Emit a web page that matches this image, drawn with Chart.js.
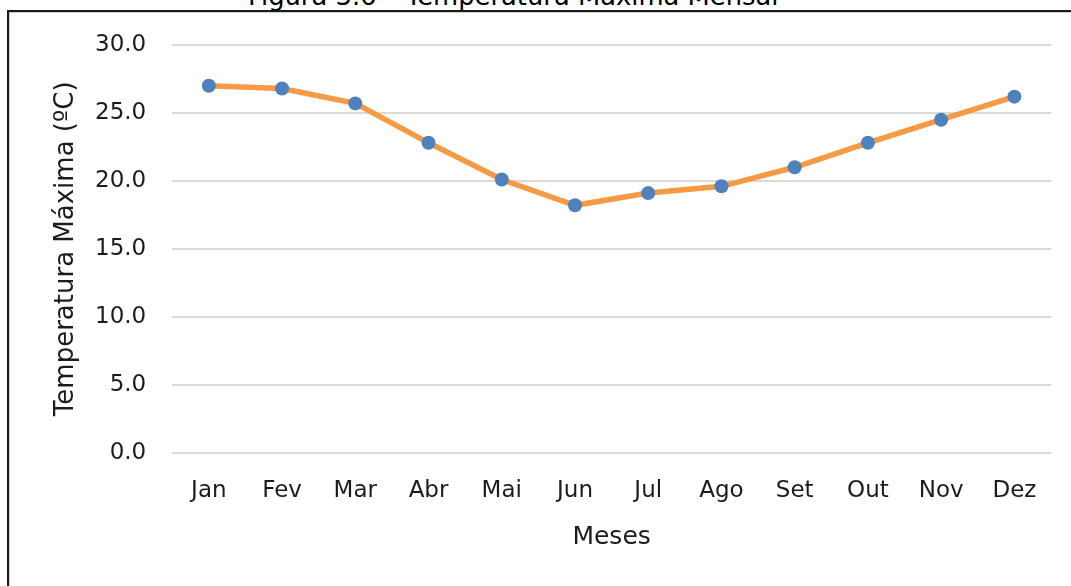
<!DOCTYPE html>
<html>
<head>
<meta charset="utf-8">
<script src="https://cdn.jsdelivr.net/npm/chart.js@4.4.1/dist/chart.umd.min.js"></script>
<style>
  html, body { margin: 0; padding: 0; background: #fff; overflow: hidden; }
  #wrap { position: relative; width: 1071px; height: 586px; }
  #titulo {
    position: absolute; left: 248px; top: -15.6px;
    font-family: "DejaVu Sans", sans-serif; font-size: 25.8px; line-height: 25.8px;
    color: #000; white-space: nowrap;
  }
  #marco {
    position: absolute; left: 7px; top: 10px; width: 1100px; height: 620px;
    border-top: 2px solid #1a1a1a; border-left: 2px solid #1a1a1a;
    box-shadow: inset 1px 1px 0 #d0d0d0;
  }
  canvas { position: absolute; left: 0; top: 0; }
</style>
</head>
<body>
<div id="wrap">
  <div id="titulo">Figura 3.6 – Temperatura Máxima Mensal</div>
  <div id="marco"></div>
  <canvas id="grafica" width="1071" height="586"></canvas>
</div>
<script>
const meses = ["Jan", "Fev", "Mar", "Abr", "Mai", "Jun", "Jul", "Ago", "Set", "Out", "Nov", "Dez"];
const tempMaxima = [27.0, 26.8, 25.7, 22.8, 20.1, 18.2, 19.1, 19.6, 21.0, 22.8, 24.5, 26.2];
const ejeY = { min: 0, max: 30, paso: 5 };

const fuente = "'DejaVu Sans', sans-serif";
const colorTexto = "#1c1c1c";

const ctx = document.getElementById("grafica").getContext("2d");
new Chart(ctx, {
  type: "line",
  data: {
    labels: meses,
    datasets: [{
      label: "Temperatura Máxima",
      data: tempMaxima,
      borderColor: "#f79a45",
      borderWidth: 5.5,
      backgroundColor: "#4f81bd",
      pointBackgroundColor: "#4f81bd",
      pointBorderColor: "#4f81bd",
      pointRadius: 7,
      pointBorderWidth: 0,
      tension: 0,
      fill: false
    }]
  },
  options: {
    responsive: false,
    animation: false,
    layout: { padding: { top: 45, right: 20, bottom: 0, left: 0 } },
    plugins: {
      legend: { display: false },
      tooltip: { enabled: false }
    },
    scales: {
      x: {
        offset: true,
        grid: { display: false, drawTicks: false },
        border: { display: false },
        ticks: {
          padding: 25,
          color: colorTexto,
          font: { family: fuente, size: 23 }
        },
        title: {
          display: true,
          text: "Meses",
          color: colorTexto,
          font: { family: fuente, size: 25 },
          padding: { top: -8.2, bottom: 34 }
        }
      },
      y: {
        min: ejeY.min,
        max: ejeY.max,
        grid: { color: "#d9d9d9", lineWidth: 2, drawTicks: false },
        border: { display: false },
        ticks: {
          stepSize: ejeY.paso,
          padding: 26,
          color: colorTexto,
          font: { family: fuente, size: 23 },
          callback: v => v.toFixed(1)
        },
        title: {
          display: true,
          text: "Temperatura Máxima (ºC)",
          color: colorTexto,
          font: { family: fuente, size: 26 },
          padding: { top: 50.4, bottom: -12.6 }
        }
      }
    }
  }
});
</script>
</body>
</html>
